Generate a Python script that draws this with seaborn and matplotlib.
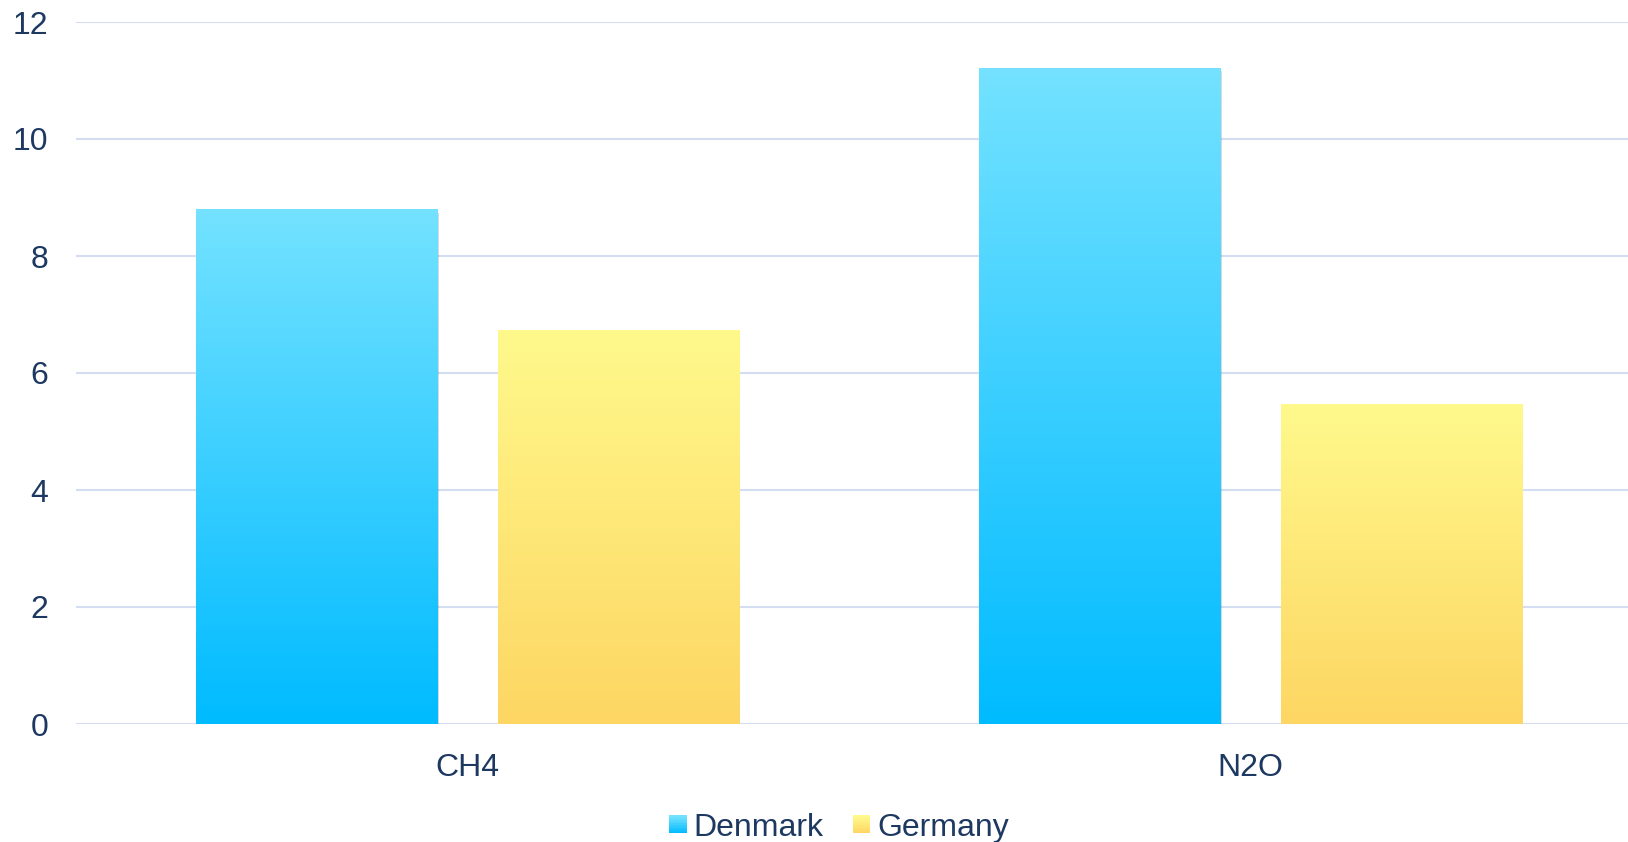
import numpy as np
import pandas as pd
import matplotlib
matplotlib.use("Agg")
import matplotlib.pyplot as plt
import seaborn as sns
from matplotlib.colors import LinearSegmentedColormap
from matplotlib.patches import Rectangle
from matplotlib.legend_handler import HandlerBase
import matplotlib.patheffects as pe

categories = ["CH4", "N2O"]
series_names = ["Denmark", "Germany"]
denmark = [8.79, 11.21]
germany = [6.73, 5.47]
y_ticks = [0, 2, 4, 6, 8, 10, 12]

grad_colors = {
    "Denmark": ("#74e2ff", "#00bbff"),
    "Germany": ("#fff98c", "#fdd663"),
}
text_color = "#1d3861"
grid_color = "#d3def2"

df = pd.DataFrame({
    "gas": categories * 2,
    "country": [series_names[0]] * len(categories) + [series_names[1]] * len(categories),
    "value": denmark + germany,
})

sns.set_theme(style="white")
plt.rcParams["font.family"] = ["Liberation Sans", "DejaVu Sans"]

fig = plt.figure(figsize=(16.28, 8.42), dpi=100)
ax = fig.add_axes([76 / 1628, (842 - 724) / 842, 1566 / 1628, (724 - 22) / 842])

palette = {s: grad_colors[s][0] for s in series_names}
sns.barplot(data=df, x="gas", y="value", hue="country", hue_order=series_names,
            order=categories, palette=palette, width=0.77, gap=0.2,
            ax=ax, legend=False, saturation=1)

ax.set_xlim(-0.5, 1.5)
ax.set_ylim(0, 12)
ax.set_yticks(y_ticks)
ax.grid(axis="y", color=grid_color, linewidth=1.5)
ax.grid(axis="x", visible=False)
ax.set_axisbelow(True)
for sp in ax.spines.values():
    sp.set_visible(False)
ax.tick_params(axis="both", length=0, labelsize=23, colors=text_color)
ax.tick_params(axis="x", pad=21)
ax.tick_params(axis="y", pad=20)
ax.set_xlabel("")
ax.set_ylabel("")

# gradient fills per bar
for container, name in zip(ax.containers, series_names):
    top, bot = grad_colors[name]
    cmap = LinearSegmentedColormap.from_list(name, [bot, top])
    grad = np.linspace(0, 1, 256).reshape(-1, 1)
    for bar in container:
        x0 = bar.get_x()
        w = bar.get_width()
        h = bar.get_height()
        bar.set_facecolor("white")
        bar.set_edgecolor("none")
        bar.set_zorder(2)
        bar.set_path_effects([pe.SimplePatchShadow(offset=(1, -2), shadow_rgbFace="#000000", alpha=0.15), pe.Normal()])
        ax.imshow(grad, extent=[x0, x0 + w, 0, h], origin="lower", cmap=cmap,
                  aspect="auto", zorder=3, interpolation="bilinear")

ax.set_xlim(-0.5, 1.5)
ax.set_ylim(0, 12)


class GradHandler(HandlerBase):
    def __init__(self, top, bot):
        super().__init__()
        self.top = top
        self.bot = bot

    def create_artists(self, legend, orig_handle, xdescent, ydescent, width, height, fontsize, trans):
        cmap = LinearSegmentedColormap.from_list("g", [self.bot, self.top])
        n = 12
        size = min(width, height)
        x = -xdescent + (width - size) / 2
        y = -ydescent + (height - size) / 2
        arts = []
        for i in range(n):
            r = Rectangle((x, y + size * i / n), size, size / n + 0.3,
                          facecolor=cmap(i / (n - 1)), edgecolor="none", transform=trans)
            arts.append(r)
        return arts


handles = [Rectangle((0, 0), 1, 1) for _ in series_names]
handler_map = {h: GradHandler(*grad_colors[n]) for h, n in zip(handles, series_names)}
leg = fig.legend(handles, series_names, handler_map=handler_map, loc="center",
                 bbox_to_anchor=(839 / 1628, 1 - 828 / 842), ncol=2, frameon=False,
                 fontsize=23, handlelength=0.55, handleheight=0.55, handletextpad=0.22,
                 columnspacing=0.9)
for t in leg.get_texts():
    t.set_color(text_color)

fig.savefig("out.png", dpi=100)
